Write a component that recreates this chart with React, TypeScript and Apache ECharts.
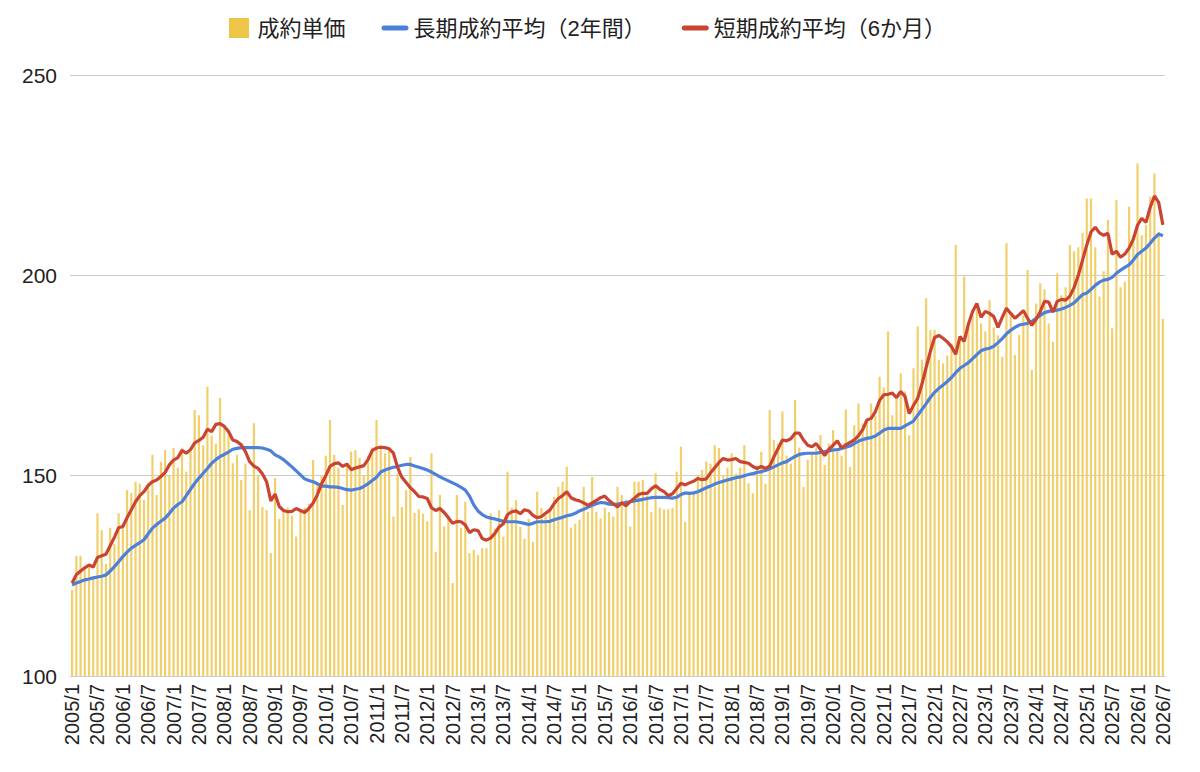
import React, { useEffect, useRef } from "react";
import * as echarts from "echarts";

// monthly categories 2005/1 .. 2026/7
const startYear = 2005;
const monthCount = 259;
const categories: string[] = [];
for (let k = 0; k < monthCount; k++) {
  categories.push(`${startYear + Math.floor(k / 12)}/${(k % 12) + 1}`);
}

const yTicks = [100, 150, 200, 250];

// 成約単価 (monthly)
const unitPrice = [
  121.5, 130, 130, 126.5, 127.5, 124.5, 140.6, 136.4, 128, 137, 133, 140.6,
  138, 146.4, 145.7, 148.5, 148, 144, 147, 155.2, 145.2, 153.5, 156.4, 150,
  156.9, 152, 157, 151, 156, 166.4, 165.1, 157.6, 172.2, 160, 158, 169.4,
  162, 160, 153.1, 155.2, 148.9, 153, 141.4, 163.1, 150, 142.2, 141.4, 130.7,
  149.4, 139.2, 141, 142, 140, 134.8, 141.5, 142, 143, 153.9, 148, 150,
  155, 163.9, 155.2, 152, 142.7, 153, 156, 156.4, 154.4, 150, 155, 157,
  163.9, 157.6, 155.6, 157, 139.8, 150.6, 142.2, 146.4, 154.7, 140.7, 141.6, 140.5,
  138.6, 155.6, 131, 145.2, 137.3, 140, 123.2, 145.2, 137, 143.5, 130.7, 131.5,
  130.2, 131.9, 131.9, 140.6, 136.8, 141.4, 134.8, 151, 142, 143.9, 137.2, 134.3,
  139.2, 133.5, 146, 142, 140, 141, 144.7, 147.2, 148.5, 152.2, 137, 138,
  139, 147.2, 141, 149.7, 141, 139.3, 142, 140.9, 139.8, 147.2, 145.2, 144,
  137.3, 148.5, 148.5, 148.9, 145, 140.9, 150.6, 142, 141.6, 141.6, 142, 151,
  157.2, 138.5, 146, 145.5, 150, 151.4, 153.5, 153, 157.6, 156.9, 150, 152,
  155.6, 150.5, 152, 157.6, 148.1, 145.6, 152.5, 156, 148, 166.4, 158.9, 158,
  166, 155, 153, 168.9, 157, 147.2, 154, 155.5, 157, 160.1, 152.7, 158,
  161.4, 156, 155, 166.5, 152.2, 162.6, 168, 163, 163.5, 168, 165, 174.7,
  172, 186, 165.1, 170, 175.5, 171, 160.1, 176.8, 187.2, 178.9, 194.3, 186.4,
  186.4, 178.9, 178, 180, 183, 207.6, 184, 199.7, 187.2, 190, 192.2, 188,
  186, 193.8, 187, 185, 179.7, 208, 190, 180.1, 185.1, 190, 201.3, 176.4,
  193, 198, 196.5, 188, 183.4, 200.5, 195, 197, 207.6, 206, 207, 210.6,
  219.2, 219.2, 207, 194.7, 201, 213.8, 186.8, 218.8, 197, 198.4, 217.1, 210,
  227.9, 210, 212.6, 219.6, 225.4, 210.9, 189.1,
];

// 長期成約平均（2年間）
const longAvg = [
  122.7, 123.2, 123.6, 124, 124.2, 124.5, 124.7, 124.9, 125.2, 126.2, 127.3, 128.5,
  129.8, 130.9, 131.9, 132.6, 133.3, 134, 135.5, 136.9, 137.8, 138.6, 139.4, 140.6,
  141.9, 142.8, 143.5, 145, 146.6, 148.1, 149.4, 150.6, 151.8, 153.1, 154, 154.8,
  155.3, 155.9, 156.6, 156.8, 157, 157, 157, 157, 157, 156.9, 156.6, 156.2,
  155.2, 154.7, 154, 153.1, 152.2, 151.2, 150.2, 149.2, 148.8, 148.5, 148, 147.4,
  147.4, 147.2, 147.2, 147.1, 146.8, 146.5, 146.4, 146.6, 146.8, 147.3, 148, 148.8,
  149.6, 150.9, 151.4, 151.8, 152.1, 152.3, 152.6, 152.8, 152.8, 152.4, 152.1, 151.8,
  151.4, 150.9, 150.3, 149.7, 149.2, 148.7, 148.2, 147.7, 147.1, 146.4, 144.9, 142.7,
  141.2, 140.3, 139.7, 139.4, 139.2, 138.9, 138.6, 138.5, 138.5, 138.5, 138.3, 138.1,
  137.8, 138.1, 138.5, 138.5, 138.5, 138.6, 139, 139.3, 139.6, 140, 140.2, 140.6,
  141.2, 141.6, 142.1, 142.6, 143, 143.3, 143.2, 142.9, 142.8, 142.9, 143.1, 143.3,
  143.5, 143.7, 143.9, 144.1, 144.3, 144.5, 144.6, 144.6, 144.6, 144.5, 144.4, 144.6,
  145.3, 145.7, 145.6, 145.7, 146, 146.5, 147, 147.4, 147.9, 148.3, 148.6, 148.9,
  149.2, 149.5, 149.7, 150, 150.3, 150.5, 150.8, 151, 151.3, 151.7, 152.2, 152.7,
  153.2, 153.5, 154.2, 154.8, 155.3, 155.5, 155.6, 155.6, 155.6, 155.8, 156, 156.2,
  156.4, 156.5, 156.8, 157.1, 157.4, 158, 158.6, 159, 159.3, 159.5, 159.9, 160.6,
  161.4, 161.8, 161.8, 161.8, 161.8, 162.4, 163, 163.6, 165.1, 166.5, 168, 169.5,
  170.8, 171.8, 172.6, 173.5, 174.5, 175.7, 176.8, 177.5, 178.2, 179.2, 180.2, 181.2,
  181.6, 181.8, 182.3, 183.2, 184.2, 185.4, 186.3, 187, 187.6, 187.8, 188, 188.5,
  189.3, 190, 190.7, 191, 191.2, 191.3, 191.6, 192, 192.5, 193.1, 194.2, 195.2,
  195.6, 196.5, 197.5, 198.3, 198.8, 199, 199.5, 200.5, 201.3, 202, 202.6, 203.8,
  205.2, 206, 206.8, 208, 209.3, 210.3, 209.9,
];

// 短期成約平均（6か月）
const shortAvg = [
  123.2, 125.3, 126.2, 127, 127.7, 127.2, 129.6, 130, 130.4, 132.5, 134.6, 137,
  137.3, 139.5, 141.5, 143.5, 145, 146, 147.6, 148.5, 148.9, 149.8, 150.8, 152.7,
  153.9, 154.5, 156.3, 155.6, 156.5, 158.2, 158.8, 159.6, 161.6, 161, 162.8, 163,
  162.3, 161, 158.9, 158.5, 157.7, 156, 153.5, 152.4, 151.8, 150.5, 148.5, 143.7,
  145.4, 142.3, 141.3, 141, 141.1, 141.8, 141.3, 140.8, 141.8, 143.2, 145.2, 148,
  150, 152.3, 153, 153.2, 152.3, 152.9, 151.5, 151.9, 152.2, 152.5, 154, 156.3,
  156.9, 157.1, 157, 156.7, 155.6, 152, 149.6, 148.3, 147, 146, 144.8, 144.7,
  144.3, 142, 141.3, 141.8, 140.8, 139.5, 138.1, 138.6, 138.5, 137.7, 135.8, 136.5,
  136.3, 134.3, 133.9, 134.4, 135.6, 137.2, 138, 140.3, 141, 141.2, 140.5, 141.5,
  141.2, 140.1, 139.5, 139.8, 140.6, 141.4, 143, 144.3, 145, 146, 144.5, 144,
  143.7, 143.2, 142.6, 143.2, 143.8, 144.5, 144.9, 143.8, 143, 142.2, 143.2, 142.5,
  143.5, 144.4, 145.3, 145.6, 145.6, 146.7, 147.5, 146.6, 146, 145, 145.5, 146.8,
  148.1, 147.7, 148.2, 148.6, 149.3, 149, 149.2, 150.7, 152, 153.3, 154.3, 153.9,
  154, 154.3, 153.5, 153.3, 153.1, 152.3, 151.8, 152.3, 151.8, 152.4, 154.7, 156.8,
  158.9, 158.7, 159.2, 160.6, 160.6, 158.9, 157.6, 157.2, 158, 156.6, 155, 156.6,
  157.6, 158.7, 156.9, 157.7, 158.3, 158.9, 160, 161.5, 163.9, 164.3, 166, 168.8,
  170.2, 170.3, 170.6, 169.5, 171, 169.8, 165.5, 167.5, 169.3, 172.8, 177, 181,
  184.5, 185, 184.3, 183.4, 182.2, 180.3, 184.7, 183.5, 187.8, 191, 193, 189.5,
  191, 190.5, 189.7, 187, 189.5, 191.8, 190.5, 189.3, 190.2, 191.2, 189.3, 187.5,
  189, 191, 193.5, 193.3, 190.8, 193.5, 194, 193.8, 194.8, 197, 200, 203.8,
  207.6, 210.8, 212, 210.6, 210, 210.5, 205.3, 206, 204.5, 205.3, 206.8, 209,
  212.5, 214.2, 213.2, 217, 219.8, 218.2, 212.6,
];

const seriesNames = ["成約単価", "長期成約平均（2年間）", "短期成約平均（6か月）"];

const FONT = "'Liberation Sans', Arial, 'Noto Sans CJK JP', sans-serif";
const BAR_COLOR = "#f1d06c";
const BAR_LEGEND = "#eec546";
const BLUE = "#4d80d8";
const RED = "#cb4431";

export default function App() {
  const ref = useRef<HTMLDivElement>(null);

  useEffect(() => {
    document.body.style.margin = "0";
    if (!ref.current) return;
    const chart = echarts.init(ref.current, undefined, { renderer: "svg" });
    chart.setOption({
      animation: false,
      backgroundColor: "#ffffff",
      textStyle: { fontFamily: FONT },
      legend: {
        top: 12,
        left: 224,
        itemWidth: 27,
        itemHeight: 20,
        itemGap: 36,
        textStyle: { fontSize: 22, color: "#222", fontFamily: FONT },
        data: [
          {
            name: seriesNames[0],
            icon: "path://M0,0H10V10H0Z",
            itemStyle: { color: BAR_LEGEND },
          },
          {
            name: seriesNames[1],
            icon: "path://M2,0H24A2,2 0 0 1 24,5H2A2,2 0 0 1 2,0Z",
          },
          {
            name: seriesNames[2],
            icon: "path://M2,0H24A2,2 0 0 1 24,5H2A2,2 0 0 1 2,0Z",
          },
        ],
      },
      grid: { left: 70, right: 35, top: 75, bottom: 96, containLabel: false },
      xAxis: {
        type: "category",
        data: categories,
        boundaryGap: true,
        axisLine: { show: true, lineStyle: { color: "#cccccc" } },
        axisTick: { show: false },
        axisLabel: {
          interval: 5,
          rotate: 90,
          fontSize: 20,
          color: "#222",
          margin: 8,
          fontFamily: FONT,
        },
        splitLine: { show: false },
      },
      yAxis: {
        type: "value",
        min: yTicks[0],
        max: yTicks[yTicks.length - 1],
        interval: 50,
        axisLine: { show: false },
        axisTick: { show: false },
        axisLabel: { fontSize: 21, color: "#222", margin: 13, fontFamily: FONT },
        splitLine: { show: true, lineStyle: { color: "#cccccc", width: 1 } },
      },
      series: [
        {
          name: seriesNames[0],
          type: "bar",
          data: unitPrice,
          barWidth: "52%",
          itemStyle: { color: BAR_COLOR },
          z: 1,
        },
        {
          name: seriesNames[1],
          type: "line",
          data: longAvg,
          symbol: "none",
          showSymbol: false,
          lineStyle: { color: BLUE, width: 3.2 },
          itemStyle: { color: BLUE },
          z: 3,
        },
        {
          name: seriesNames[2],
          type: "line",
          data: shortAvg,
          symbol: "none",
          showSymbol: false,
          lineStyle: { color: RED, width: 3.2 },
          itemStyle: { color: RED },
          z: 4,
        },
      ],
    });
    return () => chart.dispose();
  }, []);

  return <div ref={ref} style={{ width: 1200, height: 772 }} />;
}
